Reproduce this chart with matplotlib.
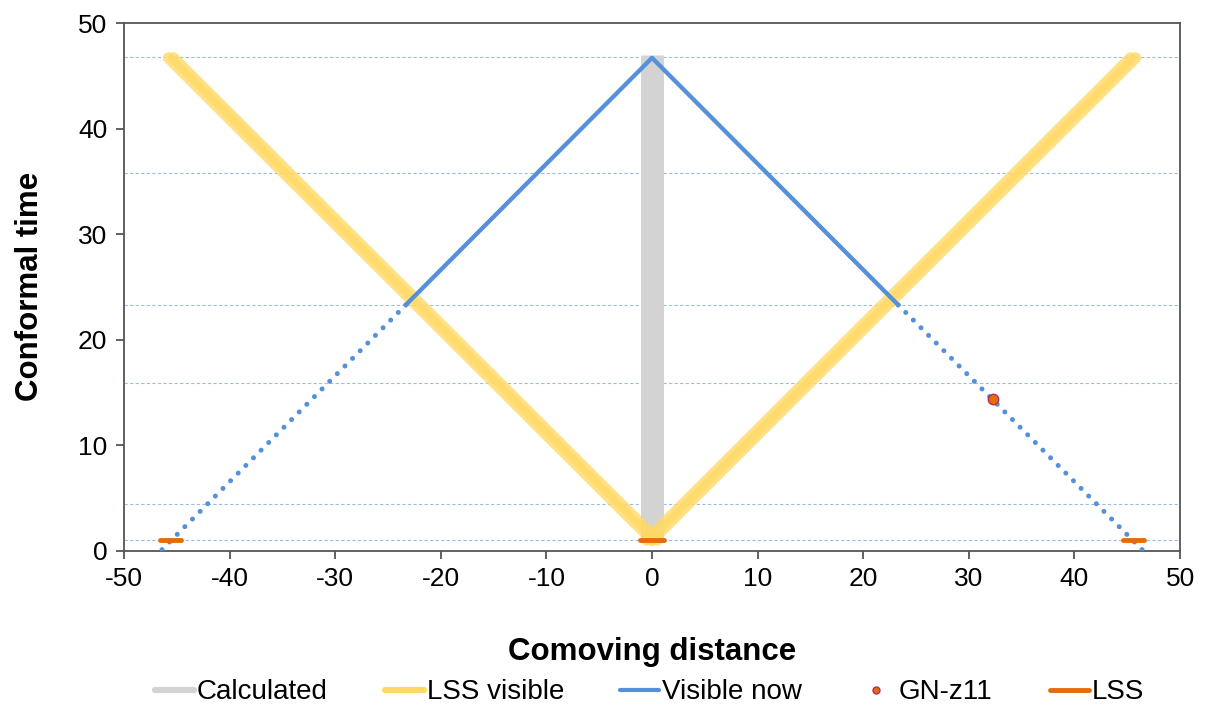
import matplotlib.pyplot as plt
from matplotlib.lines import Line2D

plt.rcParams['font.family'] = ['Liberation Sans', 'DejaVu Sans']
plt.rcParams['axes.unicode_minus'] = False

# reference levels (dashed lines)
level_y = [46.75, 35.8, 23.3, 15.85, 4.45, 0.98]

# calculated column at x=0
calc_x = [0, 0]
calc_y = [0.9, 47.0]

# LSS visible light cones (two slightly offset strokes per side)
lss_vis_left_x = [[0.0, -45.8], [0.5, -45.3]]
lss_vis_right_x = [[0.0, 45.8], [-0.5, 45.3]]
lss_vis_y = [1.0, 46.7]

# visible now: solid part and dotted part
vis_solid_x = [-23.3, 0.0, 23.3]
vis_solid_y = [23.3, 46.7, 23.3]
vis_dot_left_x = [-23.3, -46.5]
vis_dot_right_x = [23.3, 46.5]
vis_dot_y = [23.3, 0.0]

# GN-z11
gn_x = [32.3]
gn_y = [14.4]

# LSS segments
lss_x = [-46.6, -44.6, None, -1.1, 1.1, None, 44.6, 46.6]
lss_y = [1.0, 1.0, None, 1.0, 1.0, None, 1.0, 1.0]

c_gray = '#D3D3D3'
c_yellow = '#FFD966'
c_blue = '#5590DA'
c_orange = '#E46C0A'

fig = plt.figure(figsize=(12.07, 7.08), dpi=100)
ax = fig.add_axes([0.1027, 0.2222, 0.875, 0.7453])

for y in level_y:
    ax.plot([-50, 50], [y, y], color='#9DBDE6', lw=0.8, dashes=(3, 2), zorder=1)

ax.plot(calc_x, calc_y, color=c_gray, lw=16.5, solid_capstyle='butt', zorder=2)

for xs in lss_vis_left_x + lss_vis_right_x:
    ax.plot(xs, lss_vis_y, color=c_yellow, lw=8, alpha=0.8, solid_capstyle='round', zorder=3)

ax.plot(vis_solid_x, vis_solid_y, color=c_blue, lw=3.1, zorder=4)
for xs in [vis_dot_left_x, vis_dot_right_x]:
    ax.plot(xs, vis_dot_y, color=c_blue, lw=3.6, linestyle=(0, (0.01, 2.15)),
            dash_capstyle='round', zorder=4)

ax.plot(gn_x, gn_y, 'o', color=c_orange, markeredgecolor='#B03060', markersize=7.5,
        markeredgewidth=1, zorder=5)

lss_xf = [float('nan') if v is None else v for v in lss_x]
lss_yf = [float('nan') if v is None else v for v in lss_y]
ax.plot(lss_xf, lss_yf, color=c_orange, lw=3.5, solid_capstyle='round', zorder=6)

ax.set_xlim(-50, 50)
ax.set_ylim(0, 50)
ax.set_xticks(range(-50, 51, 10))
ax.set_yticks(range(0, 51, 10))
for s in ax.spines.values():
    s.set_color('#555555')
    s.set_linewidth(1.3)
ax.tick_params(direction='out', length=6, width=1.3, color='#555555', labelsize=19, pad=6)

ax.set_xlabel('Comoving distance', fontsize=22.5, fontweight='bold', labelpad=33)
ax.set_ylabel('Conformal time', fontsize=22.5, fontweight='bold', labelpad=24)

# legend: one entry per legend so the spacing matches the original
handles = [
    Line2D([], [], color=c_gray, lw=4.5, solid_capstyle='round'),
    Line2D([], [], color=c_yellow, lw=4.5, solid_capstyle='round'),
    Line2D([], [], color=c_blue, lw=3, solid_capstyle='round'),
    Line2D([], [], marker='o', linestyle='none', color=c_orange, markeredgecolor='#B03060',
           markersize=5),
    Line2D([], [], color=c_orange, lw=3.5, solid_capstyle='round'),
]
labels = ['Calculated', 'LSS visible', 'Visible now', 'GN-z11', 'LSS']
leg_x = [155, 385, 620, 857, 1050]
for h, lab, px in zip(handles, labels, leg_x):
    fig.legend([h], [lab], loc='center left', bbox_to_anchor=(px / 1207, 0.022),
               frameon=False, fontsize=20, handlelength=1.4, handletextpad=0.1,
               borderpad=0, borderaxespad=0)

plt.savefig('out.png', dpi=100)
plt.close()
